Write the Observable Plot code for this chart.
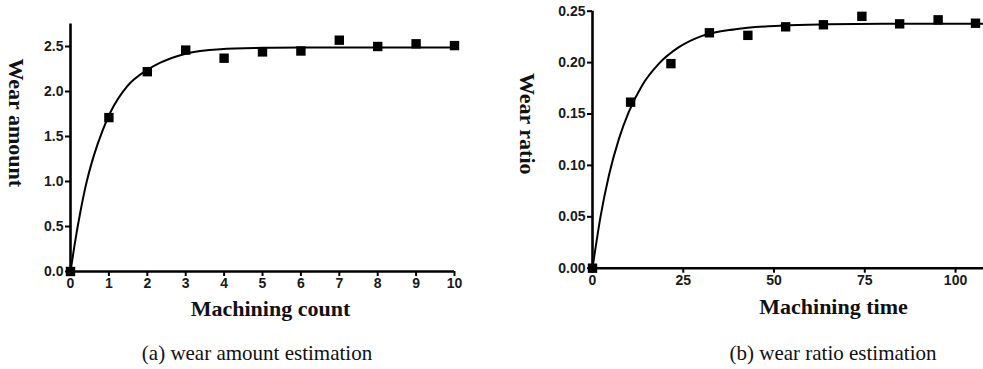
<!DOCTYPE html>
<html>
<head>
<meta charset="utf-8">
<script src="https://cdn.jsdelivr.net/npm/d3@7"></script>
<script src="https://cdn.jsdelivr.net/npm/@observablehq/plot@0.6"></script>
<style>
  html, body { margin: 0; padding: 0; background: #fff; overflow: hidden; }
  #wrap { position: relative; width: 983px; height: 369px; }
  .panel { position: absolute; top: 0; }
  .caption { position: absolute; top: 339px; font-family: "Liberation Serif", "Times New Roman", serif; font-size: 21px; line-height: 28px; white-space: nowrap; transform: translateX(-50%); color: #111; }
</style>
</head>
<body>
<div id="wrap">
  <div id="pa" class="panel" style="left:0px"></div>
  <div id="pb" class="panel" style="left:500px"></div>
  <div class="caption" style="left:257px">(a) wear amount estimation</div>
  <div class="caption" style="left:833px">(b) wear ratio estimation</div>
</div>
<script>
// ---- Panel (a): wear amount vs machining count ----
const countX = [0, 1, 2, 3, 4, 5, 6, 7, 8, 9, 10];
const wearAmount = [0, 1.71, 2.22, 2.46, 2.37, 2.44, 2.45, 2.57, 2.50, 2.53, 2.51];
const fitCountX = [0, 0.1, 0.26, 0.39, 0.61, 0.83, 1.04, 1.48, 2.0, 2.34, 3.0, 3.9, 5, 6, 7, 8, 9, 10];
const fitAmount = [0, 0.28, 0.67, 0.94, 1.29, 1.56, 1.77, 2.06, 2.24, 2.32, 2.42, 2.47, 2.485, 2.49, 2.49, 2.49, 2.49, 2.49];
const ticksA_X = [0, 1, 2, 3, 4, 5, 6, 7, 8, 9, 10];
const ticksA_Y = [0, 0.5, 1.0, 1.5, 2.0, 2.5];

// ---- Panel (b): wear ratio vs machining time ----
const timeX = [0, 10.5, 21.6, 32.2, 42.8, 53.2, 63.6, 74.2, 84.6, 95.2, 105.5];
const wearRatio = [0, 0.1615, 0.199, 0.229, 0.2265, 0.2348, 0.2368, 0.245, 0.2377, 0.2416, 0.2383];
const fitTimeX = [0, 0.4, 2.2, 4.5, 7.3, 10, 13.7, 18.3, 23.8, 30.2, 39.4, 52.3, 65, 80, 95, 108];
const fitRatio = [0, 0.0095, 0.050, 0.090, 0.126, 0.152, 0.178, 0.199, 0.215, 0.226, 0.2325, 0.236, 0.2372, 0.2377, 0.2378, 0.2378];
const ticksB_X = [0, 25, 50, 75, 100];
const ticksB_Y = [0, 0.05, 0.10, 0.15, 0.20, 0.25];

const tickFont = {fontFamily: "'Liberation Sans', Arial, sans-serif", fontWeight: "bold", fontSize: 14};
const serifBold = "'Liberation Serif', 'Times New Roman', serif";

function panel({width, height, mL, mR, mT, mB, xDom, yDom, xTicks, yTicks, yFmt, xs, ys, fx, fy, xLabel, yLabel, xLab, yLab}) {
  const pts = xs.map((x, i) => ({x, y: ys[i]}));
  const fit = fx.map((x, i) => ({x, y: fy[i]}));
  return Plot.plot({
    width, height,
    marginLeft: mL, marginRight: mR, marginTop: mT, marginBottom: mB,
    style: {background: "#fff", overflow: "visible"},
    x: {domain: xDom},
    y: {domain: yDom},
    marks: [
      Plot.axisY({ticks: yTicks, tickFormat: yFmt, tickSize: 5, tickPadding: 2, strokeWidth: 2, label: null, ...tickFont, fill: "#1a1a1a"}),
      Plot.axisX({ticks: xTicks, tickFormat: d => d, tickSize: 5, tickPadding: 2, strokeWidth: 2, label: null, ...tickFont, fill: "#1a1a1a"}),
      Plot.ruleX([xDom[0]], {stroke: "#000", strokeWidth: 2.6}),
      Plot.ruleY([yDom[0]], {stroke: "#000", strokeWidth: 2.6}),
      Plot.line(fit, {x: "x", y: "y", curve: "monotone-x", stroke: "#000", strokeWidth: 2}),
      Plot.dot(pts, {x: "x", y: "y", symbol: "square", r: 5.3, fill: "#000", stroke: "none"}),
      Plot.text([yLabel], {frameAnchor: "left", rotate: 90, dx: yLab[0], dy: yLab[1], fontFamily: serifBold, fontWeight: "bold", fontSize: 22, fill: "#111", textAnchor: "middle"}),
      Plot.text([xLabel], {frameAnchor: "bottom", dx: xLab[0], dy: xLab[1], fontFamily: serifBold, fontWeight: "bold", fontSize: 22, fill: "#111", textAnchor: "middle"})
    ]
  });
}

document.getElementById("pa").append(panel({
  width: 480, height: 330, mL: 70, mR: 26, mT: 23.5, mB: 59,
  xDom: [0, 10], yDom: [0, 2.75], xTicks: ticksA_X, yTicks: ticksA_Y, yFmt: d3.format(".1f"),
  xs: countX, ys: wearAmount, fx: fitCountX, fy: fitAmount,
  xLabel: "Machining count", yLabel: "Wear amount",
  xLab: [8, 44], yLab: [-54, -25]
}));

document.getElementById("pb").append(panel({
  width: 483, height: 330, mL: 92, mR: 0, mT: 10.7, mB: 62.3,
  xDom: [0, 107.7], yDom: [0, 0.25], xTicks: ticksB_X, yTicks: ticksB_Y, yFmt: d3.format(".2f"),
  xs: timeX, ys: wearRatio, fx: fitTimeX, fy: fitRatio,
  xLabel: "Machining time", yLabel: "Wear ratio",
  xLab: [45.5, 45.5], yLab: [-65, -16]
}));
</script>
</body>
</html>
